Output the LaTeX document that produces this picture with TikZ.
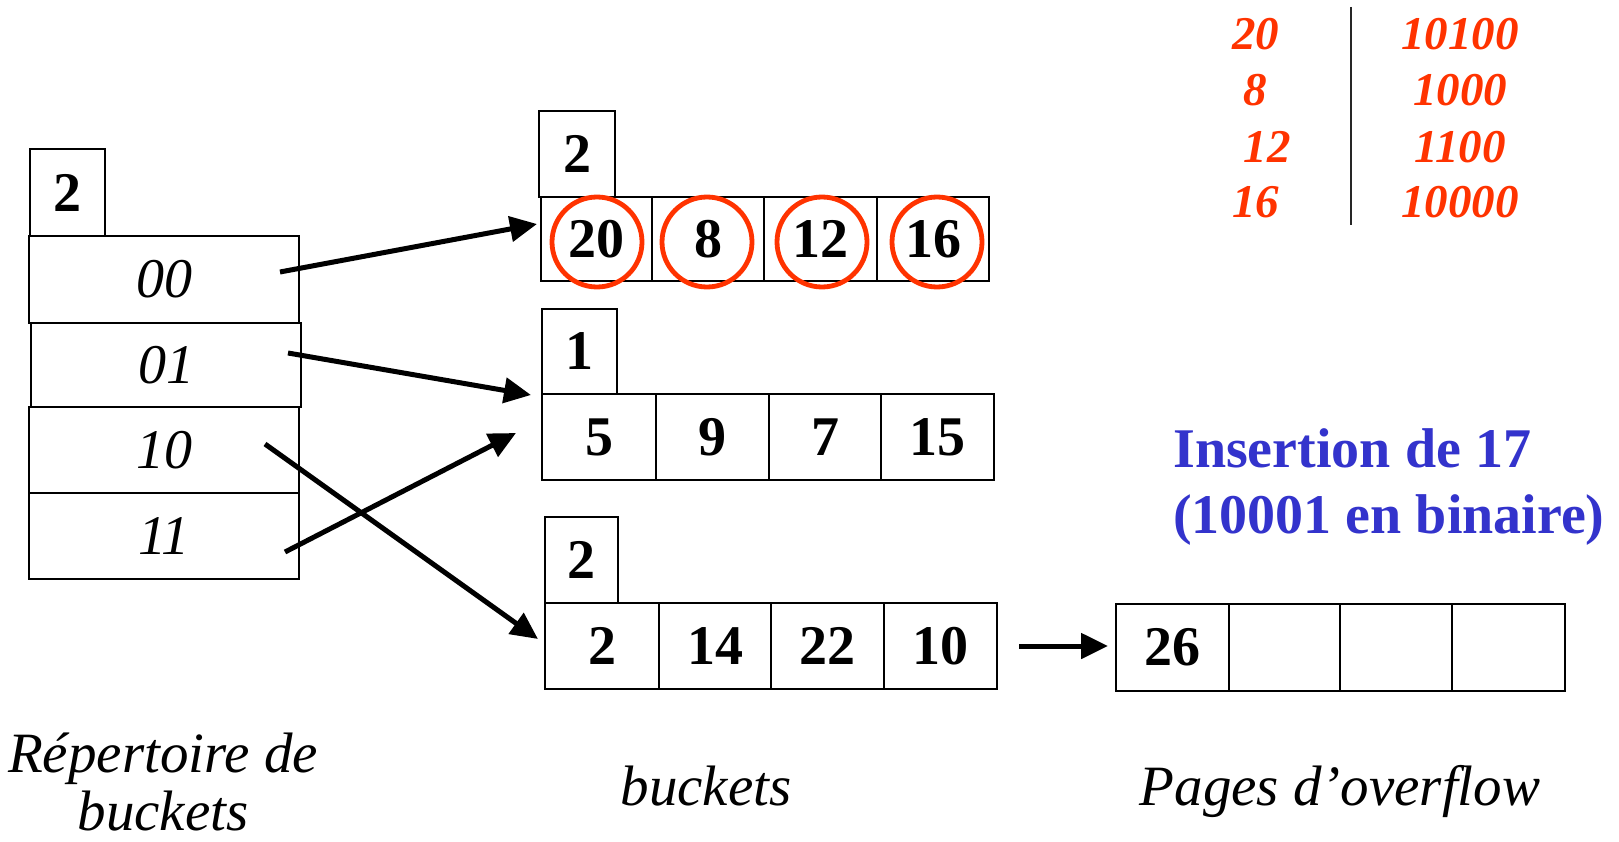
\documentclass[tikz,border=0pt]{standalone}
\usepackage{fontspec}
\setmainfont{Liberation Serif}
\usetikzlibrary{arrows.meta}
\definecolor{hred}{HTML}{FF3300}
\definecolor{hblue}{HTML}{3333CC}
\begin{document}
\begin{tikzpicture}[x=1pt,y=-1pt,
  cell/.style={draw=black,line width=2pt,inner sep=0pt,outer sep=0pt,
    font=\fontsize{56}{60}\selectfont\bfseries},
  dirrow/.style={draw=black,line width=2pt,inner sep=0pt,outer sep=0pt,
    font=\fontsize{56}{60}\selectfont\itshape},
  ring/.style={draw=hred,line width=4.8pt,circle,minimum size=90pt,inner sep=0pt},
  ptr/.style={line width=5pt,-{Triangle[length=27pt,width=25pt]}},
  redtxt/.style={text=hred,font=\fontsize{47}{50}\selectfont\bfseries\itshape,anchor=base,inner sep=0pt},
  bluetxt/.style={text=hblue,font=\fontsize{56}{60}\selectfont\bfseries,anchor=base west,inner sep=0pt},
  label/.style={font=\fontsize{57}{60}\selectfont\itshape,anchor=base,inner sep=0pt}
]
\useasboundingbox (0,0) rectangle (1619,842);
\fill[white] (0,0) rectangle (1619,842);

% directory
\node[cell,minimum width=75pt,minimum height=87pt] (d2) at (67.5,192.5) {2};
\node[dirrow,minimum width=270pt,minimum height=87pt] (r00) at (164,279.5) {00};
\node[dirrow,minimum width=270pt,minimum height=84pt] (r01) at (166,365) {01};
\node[dirrow,minimum width=270pt,minimum height=86pt] (r10) at (164,450) {10};
\node[dirrow,minimum width=270pt,minimum height=86pt] (r11) at (164,536) {11};

% top bucket
\node[cell,minimum width=76pt,minimum height=86pt] (t0) at (577,154) {2};
\node[cell,minimum width=111pt,minimum height=84pt] (t1) at (596.5,239) {20};
\node[cell,minimum width=112pt,minimum height=84pt] (t2) at (708,239) {8};
\node[cell,minimum width=113pt,minimum height=84pt] (t3) at (820.5,239) {12};
\node[cell,minimum width=112pt,minimum height=84pt] (t4) at (933,239) {16};
\node[ring] (c1) at (597,242) {};
\node[ring] (c2) at (707,242) {};
\node[ring] (c3) at (822,242) {};
\node[ring] (c4) at (937,242) {};

% middle bucket
\node[cell,minimum width=75pt,minimum height=85pt] (m0) at (579.5,351.5) {1};
\node[cell,minimum width=114pt,minimum height=86pt] (m1) at (599,437) {5};
\node[cell,minimum width=113pt,minimum height=86pt] (m2) at (712.5,437) {9};
\node[cell,minimum width=112pt,minimum height=86pt] (m3) at (825,437) {7};
\node[cell,minimum width=113pt,minimum height=86pt] (m4) at (937.5,437) {15};

% bottom bucket
\node[cell,minimum width=73pt,minimum height=86pt] (b0) at (581.5,560) {2};
\node[cell,minimum width=114pt,minimum height=86pt] (b1) at (602,646) {2};
\node[cell,minimum width=112pt,minimum height=86pt] (b2) at (715,646) {14};
\node[cell,minimum width=113pt,minimum height=86pt] (b3) at (827.5,646) {22};
\node[cell,minimum width=113pt,minimum height=86pt] (b4) at (940.5,646) {10};

% overflow page
\node[cell,minimum width=113pt,minimum height=87pt] (o1) at (1172.5,647.5) {26};
\node[cell,minimum width=111pt,minimum height=87pt] (o2) at (1284.5,647.5) {};
\node[cell,minimum width=112pt,minimum height=87pt] (o3) at (1396,647.5) {};
\node[cell,minimum width=113pt,minimum height=87pt] (o4) at (1508.5,647.5) {};

% pointers
\coordinate (s00) at (280,272);
\coordinate (e00) at (537,224);
\coordinate (s01) at (288,353);
\coordinate (e01) at (531,395);
\coordinate (s10) at (265,444);
\coordinate (e10) at (538,639);
\coordinate (s11) at (285,552);
\coordinate (e11) at (516,433);
\draw[ptr] (s00) -- (e00);
\draw[ptr] (s01) -- (e01);
\draw[ptr] (s10) -- (e10);
\draw[ptr] (s11) -- (e11);
\draw[ptr,shorten <=22pt,shorten >=8pt] (b4.east) -- (o1.west |- b4.east);

% red table
\node[redtxt] (n20) at (1255.5,50) {20};
\node[redtxt] (n8) at (1255.5,106) {8};
\node[redtxt] (n12) at (1267,163) {12};
\node[redtxt] (n16) at (1255.5,218) {16};
\node[redtxt] (b20) at (1460,50) {10100};
\node[redtxt] (b8) at (1460,106) {1000};
\node[redtxt] (b12) at (1460,163) {1100};
\node[redtxt] (b16) at (1460,218) {10000};
\coordinate (vtop) at (1351,7);
\coordinate (vbot) at (1351,225);
\draw[line width=2.5pt,black!85] (vtop) -- (vbot);

% blue text
\node[bluetxt] (ins1) at (1173,467) {Insertion de 17};
\node[bluetxt] (ins2) at (1173,533) {(10001 en binaire)};

% labels
\node[label] (lab1) at (163,772) {Répertoire de};
\node[label] (lab2) at (163,830) {buckets};
\node[label] (lab3) at (706,805) {buckets};
\node[label] (lab4) at (1340,805) {Pages d’overflow};
\end{tikzpicture}
\end{document}
